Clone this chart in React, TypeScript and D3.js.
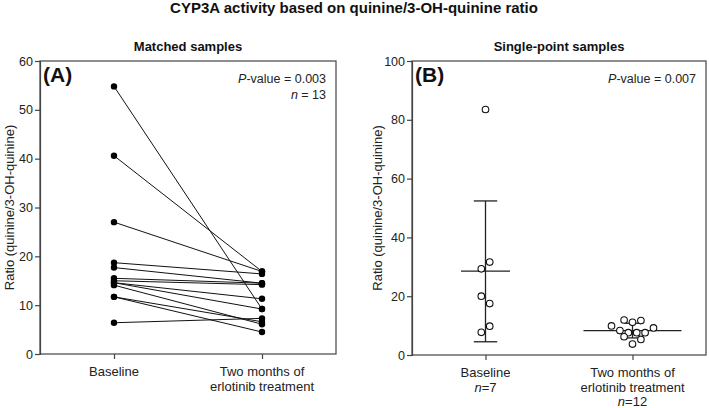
import { useRef, useEffect } from "react";
import * as d3 from "d3";

const FONT = "'Liberation Sans', Arial, Helvetica, sans-serif";
const W = 709;
const H = 408;

const categories = ["Baseline", "Two months"];
const categoryLines = [["Baseline"], ["Two months of", "erlotinib treatment"]];
const singleN = ["7", "12"];

// (A) matched samples: same patient at baseline and after two months
const matchedBaseline = [54.8, 40.6, 27.0, 18.7, 17.7, 15.5, 15.0, 14.6, 14.6, 14.1, 11.7, 11.7, 6.4];
const matchedTwoMonths = [9.2, 16.9, 16.9, 16.4, 14.5, 14.5, 14.2, 11.3, 9.2, 6.1, 6.6, 4.5, 7.3];
const matchedTicks = [0, 10, 20, 30, 40, 50, 60];

// (B) single-point samples
const singleBaseline = [83.5, 31.6, 29.3, 20.0, 17.5, 9.8, 7.7];
const singleBaselineSlot = [0, 1, -1, -1, 1, 1, -1];
const singleTwoMonths = [11.9, 11.1, 11.7, 9.9, 9.2, 8.3, 7.6, 7.6, 7.6, 6.2, 5.3, 3.7];
const singleTwoMonthsSlot = [-2, 0, 2, -5, 5, -3, -1, 1, 3, -2, 2, 0];
const singleMean = [28.5, 8.3];
const singleLow = [4.5, 5.8];
const singleHigh = [52.4, 10.8];
const singleTicks = [0, 20, 40, 60, 80, 100];

const INK = "#222";

function drawFrame(
  g: d3.Selection<SVGGElement, unknown, null, undefined>,
  x: d3.ScalePoint<string>,
  y: d3.ScaleLinear<number, number>,
  ticks: number[],
  labelX: number,
  nLabels?: string[]
) {
  const [left, right] = x.range();
  const [bottom, top] = y.range();

  // box
  g.append("rect")
    .attr("x", left)
    .attr("y", top)
    .attr("width", right - left)
    .attr("height", bottom - top)
    .attr("fill", "none")
    .attr("stroke", "#444")
    .attr("stroke-width", 1.2);

  const ax = g
    .append("g")
    .attr("transform", `translate(${left},0)`)
    .call(d3.axisLeft(y).tickValues(ticks).tickSize(5).tickPadding(2).tickFormat(d3.format("d")));
  ax.select(".domain").attr("stroke", "#444").attr("stroke-width", 1.2);
  ax.selectAll(".tick line").attr("stroke", "#444").attr("stroke-width", 1.2);
  ax.selectAll(".tick text")
    .attr("fill", INK)
    .style("font-family", FONT)
    .style("font-size", "12.5px");

  const bx = g
    .append("g")
    .attr("transform", `translate(0,${bottom})`)
    .call(d3.axisBottom(x).tickSize(5).tickFormat(() => ""));
  bx.select(".domain").remove();
  bx.selectAll(".tick line").attr("stroke", "#444").attr("stroke-width", 1.2);

  categories.forEach((c, i) => {
    const t = g
      .append("text")
      .attr("x", x(c)!)
      .attr("y", bottom + 22)
      .attr("text-anchor", "middle")
      .attr("fill", INK)
      .style("font-family", FONT)
      .style("font-size", "13px");
    const lines = categoryLines[i];
    lines.forEach((l, j) => {
      t.append("tspan").attr("x", x(c)!).attr("dy", j === 0 ? 0 : 15).text(l);
    });
    if (nLabels) {
      const nt = t.append("tspan").attr("x", x(c)!).attr("dy", lines.length === 1 ? 15 : 14);
      nt.append("tspan").style("font-style", "italic").text("n");
      nt.append("tspan").text("=" + nLabels[i]);
    }
  });

  g.append("text")
    .attr("transform", `translate(${labelX},${(top + bottom) / 2}) rotate(-90)`)
    .attr("text-anchor", "middle")
    .attr("fill", INK)
    .style("font-family", FONT)
    .style("font-size", "13px")
    .text("Ratio (quinine/3-OH-quinine)");
}

function drawCorner(
  g: d3.Selection<SVGGElement, unknown, null, undefined>,
  left: number,
  right: number,
  top: number,
  letter: string,
  pValue: string,
  n?: string
) {
  g.append("text")
    .attr("x", left + 3)
    .attr("y", top + 21)
    .attr("fill", "#111")
    .style("font-family", FONT)
    .style("font-size", "21px")
    .style("font-weight", "700")
    .text(`(${letter})`);

  const p = g
    .append("text")
    .attr("x", right - 10)
    .attr("y", top + 22)
    .attr("text-anchor", "end")
    .attr("fill", INK)
    .style("font-family", FONT)
    .style("font-size", "12.5px");
  p.append("tspan").style("font-style", "italic").text("P");
  p.append("tspan").text(`-value = ${pValue}`);

  if (n) {
    const nt = g
      .append("text")
      .attr("x", right - 10)
      .attr("y", top + 37.5)
      .attr("text-anchor", "end")
      .attr("fill", INK)
      .style("font-family", FONT)
      .style("font-size", "12.5px");
    nt.append("tspan").style("font-style", "italic").text("n");
    nt.append("tspan").text(` = ${n}`);
  }
}

export default function App() {
  const ref = useRef<SVGSVGElement>(null);

  useEffect(() => {
    if (!ref.current) return;
    const svg = d3.select(ref.current);
    svg.selectAll("*").remove();
    const g = svg.append("g");

    // titles
    g.append("text")
      .attr("x", 354)
      .attr("y", 13)
      .attr("text-anchor", "middle")
      .attr("fill", "#111")
      .style("font-family", FONT)
      .style("font-size", "15px")
      .style("font-weight", "700")
      .text("CYP3A activity based on quinine/3-OH-quinine ratio");

    // ---------- Panel A ----------
    const xA = d3.scalePoint<string>().domain(categories).range([40, 336]).padding(0.5);
    const yA = d3.scaleLinear().domain([0, 60]).range([354, 61]);

    g.append("text")
      .attr("x", 188)
      .attr("y", 51)
      .attr("text-anchor", "middle")
      .attr("fill", "#111")
      .style("font-family", FONT)
      .style("font-size", "13px")
      .style("font-weight", "700")
      .text("Matched samples");

    drawFrame(g, xA, yA, matchedTicks, 13.5);
    drawCorner(g, 40, 336, 61, "A", "0.003", "13");

    const pairs = matchedBaseline.map((b, i) => [b, matchedTwoMonths[i]]);
    g.append("g")
      .selectAll("line")
      .data(pairs)
      .join("line")
      .attr("x1", xA(categories[0])!)
      .attr("x2", xA(categories[1])!)
      .attr("y1", (d) => yA(d[0]))
      .attr("y2", (d) => yA(d[1]))
      .attr("stroke", "#111")
      .attr("stroke-width", 1);

    categories.forEach((c, ci) => {
      g.append("g")
        .selectAll("circle")
        .data(pairs)
        .join("circle")
        .attr("cx", xA(c)!)
        .attr("cy", (d) => yA(d[ci]))
        .attr("r", 3.2)
        .attr("fill", "#000");
    });

    // ---------- Panel B ----------
    const xB = d3.scalePoint<string>().domain(categories).range([412, 706]).padding(0.5);
    const yB = d3.scaleLinear().domain([0, 100]).range([355, 61]);

    g.append("text")
      .attr("x", 559)
      .attr("y", 50.5)
      .attr("text-anchor", "middle")
      .attr("fill", "#111")
      .style("font-family", FONT)
      .style("font-size", "13px")
      .style("font-weight", "700")
      .text("Single-point samples");

    drawFrame(g, xB, yB, singleTicks, 382, singleN);
    drawCorner(g, 412, 706, 61, "B", "0.007");

    const groups = [
      { values: singleBaseline, slots: singleBaselineSlot, meanHalf: 24.5, capHalf: 11.7 },
      { values: singleTwoMonths, slots: singleTwoMonthsSlot, meanHalf: 49, capHalf: 8.3 },
    ];
    const slotStep = 4.2;

    groups.forEach((grp, gi) => {
      const cx = xB(categories[gi])!;
      const eb = g.append("g").attr("stroke", "#222").attr("stroke-width", 1.3);
      eb.append("line")
        .attr("x1", cx).attr("x2", cx)
        .attr("y1", yB(singleLow[gi])).attr("y2", yB(singleHigh[gi]));
      [singleLow[gi], singleHigh[gi]].forEach((v) => {
        eb.append("line")
          .attr("x1", cx - grp.capHalf).attr("x2", cx + grp.capHalf)
          .attr("y1", yB(v)).attr("y2", yB(v));
      });
      eb.append("line")
        .attr("x1", cx - grp.meanHalf).attr("x2", cx + grp.meanHalf)
        .attr("y1", yB(singleMean[gi])).attr("y2", yB(singleMean[gi]));

      g.append("g")
        .selectAll("circle")
        .data(grp.values)
        .join("circle")
        .attr("cx", (_, i) => cx + grp.slots[i] * slotStep)
        .attr("cy", (d) => yB(d))
        .attr("r", 3.3)
        .attr("fill", "#fff")
        .attr("stroke", "#111")
        .attr("stroke-width", 1.1);
    });
  }, []);

  return (
    <svg
      ref={ref}
      width={W}
      height={H}
      style={{ position: "absolute", left: 0, top: 0, background: "#fff", display: "block" }}
    />
  );
}
